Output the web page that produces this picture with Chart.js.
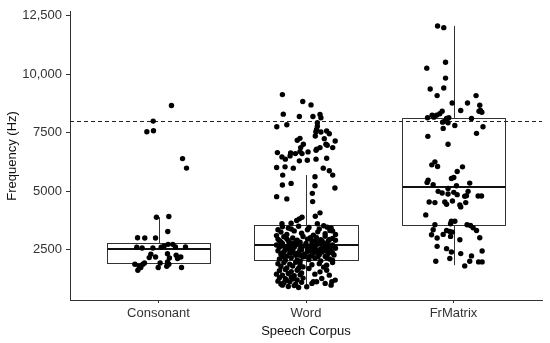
<!doctype html>
<html lang="en">
<head>
<meta charset="UTF-8">
<title>Frequency by speech corpus</title>
<script src="https://cdn.jsdelivr.net/npm/chart.js"></script>
<style>
  html, body { margin: 0; padding: 0; background: #fff; }
  #wrap { width: 550px; height: 343px; }
</style>
</head>
<body>
<div id="wrap"><canvas id="corpusChart"></canvas></div>
<script>
const categories = ['Consonant', 'Word', 'FrMatrix'];
const yTicks = [2500, 5000, 7500, 10000, 12500];
const yTickLabels = ['2500', '5000', '7500', '10,000', '12,500'];
const cutoff = 8000;

// box stats, one per corpus
const whiskerLow = [1620, 900, 1833];
const q1 = [1930, 2045, 3563];
const median = [2513, 2683, 5162];
const q3 = [2798, 3563, 8112];
const whiskerHigh = [3887, 5690, 12066];

// jittered points: [x offset from the category, Hz]
const consonantPts = [
  [-0.079,7543],[-0.034,7586],[-0.036,7998],[0.088,8666],[0.163,6395],[0.19,5987],
  [-0.014,3887],[0.07,3916],[0.063,3278],[-0.142,3010],[-0.093,2996],[-0.02,2996],
  [-0.147,2598],[-0.111,2570],[-0.038,2570],[0.018,2598],[0.038,2655],[0.065,2726],
  [0.097,2726],[0.115,2612],[0.183,2612],[-0.052,2300],[-0.063,2158],[-0.02,2186],
  [0.061,2328],[0.074,2144],[0.12,2257],[0.151,2186],[0.129,2115],[0.061,1973],
  [0.011,1930],[0.07,1874],[-0.16,1874],[-0.131,1789],[-0.106,1874],[-0.095,1930],
  [-0.14,1620],[-0.12,1733],[-0.002,1733],[0.056,1789],[0.156,1733]
];

const wordPts = [
  // above the box
  [-0.16,9133],[-0.022,8836],[0.034,8691],[-0.154,8296],[-0.045,8197],[0.047,8197],
  [0.095,8282],[0.101,8140],[-0.198,7755],[-0.13,7840],[0.077,7925],[0.077,7783],
  [0.072,7645],[0.067,7544],[0.101,7530],[0.14,7572],[0.158,7459],[0.063,7360],
  [-0.041,7260],[-0.059,7176],[0.124,7247],[0.135,7006],[0.198,7147],[-0.018,7006],
  [-0.036,6864],[0.095,6864],[0.072,6794],[0.144,6964],[0.181,6864],[-0.194,6651],
  [-0.163,6467],[-0.14,6370],[-0.108,6510],[-0.104,6637],[-0.072,6608],[-0.041,6694],
  [-0.027,6608],[0.014,6680],[0.068,6751],[-0.045,6297],[0.009,6325],[0.068,6370],
  [0.14,6412],[-0.199,6013],[-0.142,6042],[-0.086,5986],[0.117,5986],[0.158,5872],
  [-0.158,5689],[0.061,5617],[0.181,5689],[-0.16,5264],[-0.101,5332],[0.061,5234],
  [0.196,5136],[-0.199,4766],[-0.13,4669],[0.043,4907],[0.045,4554],[0.095,4073],
  [0.063,3929],[-0.027,3887],[-0.045,3817],[-0.063,3746],[-0.163,3604],[-0.101,3633],
  [0.077,3604],[0.144,3462],[0.162,3320],
  // inside the box
  [-0.16,3480],[-0.12,3420],[-0.05,3500],[0.02,3450],[0.09,3380],[0.17,3430],[-0.19,3350],[0.12,3520],
  [-0.17,3250],[-0.13,3150],[-0.08,3300],[-0.03,3200],[0.01,3350],[0.05,3120],[0.08,3260],
  [0.13,3180],[0.18,3300],[-0.2,3100],[0.2,3150],[-0.1,3380],
  [-0.19,2950],[-0.15,3050],[-0.12,2880],[-0.09,3000],[-0.06,2900],[-0.02,3060],[0.01,2950],
  [0.04,2850],[0.07,3020],[0.1,2920],[0.13,3070],[0.15,2860],[0.18,2980],[0.2,2900],
  [-0.17,2830],[-0.04,2820],[0.09,2810],
  [-0.2,2700],[-0.18,2600],[-0.16,2760],[-0.14,2550],[-0.12,2680],[-0.1,2780],[-0.08,2600],
  [-0.06,2720],[-0.04,2520],[-0.02,2650],[0,2760],[0.02,2580],[0.04,2700],[0.06,2620],
  [0.08,2780],[0.1,2540],[0.12,2680],[0.14,2760],[0.16,2600],[0.18,2700],[0.2,2560],
  [-0.15,2650],[-0.05,2780],[0.05,2530],[0.15,2680],[-0.11,2520],[0.01,2560],[0.11,2740],
  [-0.19,2450],[-0.17,2300],[-0.15,2400],[-0.13,2220],[-0.11,2350],[-0.09,2460],[-0.07,2260],
  [-0.05,2380],[-0.03,2480],[-0.01,2300],[0.01,2420],[0.03,2230],[0.05,2340],[0.07,2470],
  [0.09,2280],[0.11,2400],[0.13,2210],[0.15,2330],[0.17,2450],[0.19,2270],[-0.14,2480],
  [0,2200],[0.12,2490],[-0.08,2350],
  [-0.18,2100],[-0.14,2040],[-0.1,2150],[-0.06,2060],[-0.02,2180],[0.02,2080],[0.06,2140],
  [0.1,2020],[0.14,2160],[0.18,2050],[-0.16,2190],[0.08,2190],[-0.04,2000],[0.16,2100],
  [-0.13,2960],[-0.07,2830],[0.03,3010],[0.06,2880],[0.11,2860],[0.16,2930],[-0.18,2880],
  [-0.13,2610],[-0.09,2690],[-0.03,2590],[0.03,2650],[0.07,2700],[0.13,2590],[0.17,2640],
  [-0.16,2350],[-0.1,2420],[-0.04,2260],[0.04,2420],[0.08,2380],[0.14,2440],[0.18,2360],
  // below the box
  [-0.19,1900],[-0.15,1950],[-0.11,1880],[-0.07,1960],[-0.04,1850],[-0.17,1780],[-0.13,1720],
  [-0.09,1800],[-0.05,1700],[-0.02,1760],[-0.18,1600],[-0.14,1650],[-0.1,1560],[-0.06,1620],
  [-0.03,1500],[-0.2,1450],[-0.16,1400],[-0.12,1480],[-0.08,1380],[-0.04,1420],[-0.18,1300],
  [-0.14,1250],[-0.1,1330],[-0.06,1200],[-0.02,1280],[-0.19,1150],[-0.15,1080],[-0.11,1120],
  [-0.07,1020],[-0.03,1100],[-0.16,980],[-0.12,920],[-0.08,960],[-0.05,880],[-0.13,1180],
  [-0.17,1030],[-0.09,1240],
  [0.04,1850],[0.09,1900],[0.14,1833],[0.02,1692],[0.095,1548],[0.14,1620],[0.158,1407],
  [0.107,1267],[0.072,1123],[0.13,1054],[0.175,1123],[0.198,1195],[0.04,1054],[0.005,910],
  [0.05,1123],[0.18,1950],[0.12,1750],[0.06,1450],[0.17,980]
];

const frmatrixPts = [
  [-0.108,12067],[-0.066,11996],[-0.054,10519],[-0.181,10264],[-0.054,9839],[-0.158,9371],
  [-0.066,9413],[-0.111,9090],[0.153,9090],[-0.009,8775],[0.095,8775],[0.178,8677],
  [0.183,8452],[0.049,8452],[0.173,8422],[0.192,8380],[-0.077,8422],[-0.093,8310],
  [-0.115,8253],[-0.145,8253],[-0.133,8168],[-0.176,8139],[-0.047,8111],[-0.032,8139],
  [0.122,8111],[-0.074,7954],[-0.059,7997],[-0.037,7925],[-0.07,7687],[0.009,7813],
  [0.2,7755],[0.156,7474],[-0.174,7346],[-0.037,7005],[-0.147,6127],[-0.126,6255],
  [-0.108,6056],[0.061,6042],[0.025,5843],[0.002,5587],[-0.014,5545],[-0.172,5474],
  [-0.179,5375],[-0.138,5276],[0.02,5234],[0.11,5346],[-0.037,5120],[-0.104,4992],
  [-0.077,4921],[-0.037,4879],[0.002,4950],[0.025,4851],[0.099,4992],[0.088,4808],
  [0.076,4780],[0.167,4794],[0.19,4794],[-0.165,4539],[-0.126,4511],[-0.059,4539],
  [-0.047,4440],[-0.007,4582],[0.043,4412],[0.083,4511],[0.049,4327],[-0.188,3986],
  [-0.014,3716],[0.009,3716],[-0.126,3562],[-0.02,3604],[0.092,3562],[0.115,3533],
  [0.133,3434],[0.156,3320],[-0.138,3349],[-0.047,3320],[-0.025,3278],[-0.007,3250],
  [-0.149,3136],[-0.111,2994],[-0.07,3151],[-0.02,3066],[0.178,3009],[0.043,2924],
  [-0.111,2640],[-0.047,2542],[-0.014,2400],[0.049,2330],[0.194,2442],[0.122,2230],
  [-0.025,2117],[-0.12,2003],[0.11,2003],[0.17,1975],[0.194,1975],[0.076,1804]
];

const allPts = [consonantPts, wordPts, frmatrixPts];

const ink = '#333333';
const fontFamily = "'Liberation Sans', Arial, sans-serif";

const boxPlugin = {
  id: 'boxes',
  beforeDatasetsDraw(chart) {
    const { ctx, scales: { x, y }, chartArea } = chart;
    const half = 0.35;
    ctx.save();
    // reference line
    ctx.strokeStyle = '#222';
    ctx.lineWidth = 1;
    ctx.setLineDash([4, 3]);
    const yc = Math.round(y.getPixelForValue(cutoff)) + 0.5;
    ctx.beginPath();
    ctx.moveTo(chartArea.left, yc);
    ctx.lineTo(chartArea.right, yc);
    ctx.stroke();
    ctx.setLineDash([]);

    categories.forEach((c, i) => {
      const cx = Math.round(x.getPixelForValue(i + 1)) + 0.5;
      const xl = Math.round(x.getPixelForValue(i + 1 - half)) + 0.5;
      const xr = Math.round(x.getPixelForValue(i + 1 + half)) + 0.5;
      const yq1 = Math.round(y.getPixelForValue(q1[i])) + 0.5;
      const yq3 = Math.round(y.getPixelForValue(q3[i])) + 0.5;
      ctx.strokeStyle = ink;
      ctx.lineWidth = 1;
      ctx.beginPath();
      ctx.moveTo(cx, yq3);
      ctx.lineTo(cx, y.getPixelForValue(whiskerHigh[i]));
      ctx.moveTo(cx, yq1);
      ctx.lineTo(cx, y.getPixelForValue(whiskerLow[i]));
      ctx.stroke();
      ctx.strokeRect(xl, yq3, xr - xl, yq1 - yq3);
      ctx.lineWidth = 2;
      ctx.strokeStyle = '#111';
      const ym = Math.round(y.getPixelForValue(median[i]));
      ctx.beginPath();
      ctx.moveTo(xl, ym);
      ctx.lineTo(xr, ym);
      ctx.stroke();
    });
    ctx.restore();
  }
};

new Chart(document.getElementById('corpusChart'), {
  type: 'scatter',
  data: {
    datasets: allPts.map((pts, i) => ({
      label: categories[i],
      data: pts.map(p => ({ x: i + 1 + p[0], y: p[1] })),
      backgroundColor: '#000',
      borderWidth: 0,
      pointRadius: 2.7
    }))
  },
  options: {
    responsive: true,
    maintainAspectRatio: false,
    animation: false,
    layout: { padding: { top: 10, right: 8, left: 0, bottom: 0 } },
    plugins: { legend: { display: false }, tooltip: { enabled: false } },
    scales: {
      x: {
        type: 'linear',
        min: 0.4,
        max: 3.6,
        afterBuildTicks: s => { s.ticks = [1, 2, 3].map(v => ({ value: v })); },
        afterFit: s => { s.height = 43; },
        ticks: {
          autoSkip: false,
          maxRotation: 0,
          padding: 3,
          color: '#333',
          font: { family: fontFamily, size: 13 },
          callback: v => categories[v - 1] || ''
        },
        grid: { drawOnChartArea: false, tickLength: 3, color: ink },
        border: { color: ink, width: 1 },
        title: {
          display: true,
          text: 'Speech Corpus',
          color: '#111',
          font: { family: fontFamily, size: 13 },
          padding: { top: 2, bottom: 4 }
        }
      },
      y: {
        min: 344,
        max: 12675,
        afterBuildTicks: s => { s.ticks = yTicks.map(v => ({ value: v })); },
        afterFit: s => { s.width = 70; },
        ticks: {
          padding: 4,
          color: '#333',
          font: { family: fontFamily, size: 13 },
          callback: v => yTickLabels[yTicks.indexOf(v)]
        },
        grid: { drawOnChartArea: false, tickLength: 4, color: ink },
        border: { color: ink, width: 1 },
        title: {
          display: true,
          text: 'Frequency (Hz)',
          color: '#111',
          font: { family: fontFamily, size: 13 },
          padding: { top: 5, bottom: 0 }
        }
      }
    }
  },
  plugins: [boxPlugin]
});
</script>
</body>
</html>
